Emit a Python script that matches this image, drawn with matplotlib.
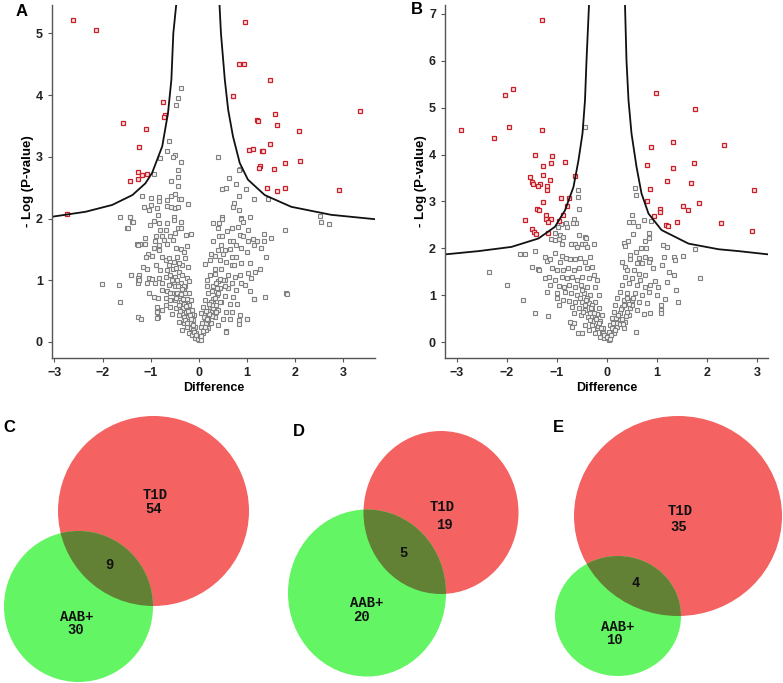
import numpy as np
import matplotlib
matplotlib.use("Agg")
from matplotlib import pyplot as plt
from matplotlib.patches import Ellipse

# ---- data: volcano panel A ----
a_red = [(-2.61, 5.22), (-2.13, 5.05), (0.95, 5.19), (0.83, 4.50), (0.93, 4.51),
         (1.47, 4.24), (0.70, 3.98), (-0.74, 3.89), (-0.71, 3.68), (-0.73, 3.64),
         (-1.58, 3.54), (-1.09, 3.45), (1.58, 3.70), (1.21, 3.59), (1.22, 3.58),
         (1.62, 3.52), (2.09, 3.42), (3.35, 3.74), (-1.24, 3.16), (1.48, 3.21),
         (1.04, 3.11), (1.13, 3.12), (1.31, 3.10), (1.33, 3.09), (1.27, 2.85),
         (1.24, 2.82), (1.56, 2.81), (1.78, 2.90), (2.11, 2.94), (-1.27, 2.75),
         (-1.26, 2.64), (-1.17, 2.71), (-1.08, 2.72), (-1.42, 2.61), (1.41, 2.50),
         (1.62, 2.45), (1.79, 2.49), (2.91, 2.46), (-2.74, 2.08)]

a_grey = [(-0.38, 4.11), (-0.44, 3.95), (-0.47, 3.84), (-0.61, 3.25), (-0.67, 3.10),
          (-0.49, 3.03), (-0.54, 2.99), (-0.80, 2.98), (-0.37, 2.91), (-0.43, 2.79),
          (-0.93, 2.72), (-0.44, 2.68), (-0.57, 2.60), (-0.44, 2.52), (-1.18, 2.36),
          (-1.00, 2.33), (-0.83, 2.35), (-0.66, 2.30), (-0.57, 2.37), (-0.49, 2.40),
          (-0.41, 2.32), (-0.37, 2.32), (-0.82, 2.29), (-1.13, 2.19), (-1.00, 2.22),
          (-0.87, 2.17), (-1.04, 2.14), (-0.67, 2.21), (-0.57, 2.19), (-0.50, 2.17),
          (-0.44, 2.19), (-0.22, 2.23), (-1.63, 2.03), (-1.42, 2.02), (-0.84, 2.06),
          (-0.52, 2.03), (-1.38, 1.95), (-1.49, 1.85), (-0.93, 1.96), (-1.02, 1.90),
          (-0.83, 1.92), (-0.66, 1.92), (-0.52, 1.98), (-0.38, 1.95), (-0.80, 1.82),
          (-0.69, 1.82), (-0.43, 1.84), (-0.36, 1.84), (-0.89, 1.72), (-0.76, 1.72),
          (-0.59, 1.72), (-0.50, 1.76), (-0.26, 1.74), (-0.17, 1.75), (-1.12, 1.68),
          (-0.90, 1.63), (-0.73, 1.65), (-0.54, 1.65), (-1.28, 1.58), (-1.23, 1.59),
          (-0.83, 1.57), (-0.93, 1.52), (-0.82, 1.49), (-0.66, 1.58), (-0.47, 1.53),
          (-0.38, 1.50), (-0.24, 1.55), (-0.31, 1.46), (-1.05, 1.42), (-0.97, 1.40),
          (-1.09, 1.38), (-0.76, 1.37), (-0.69, 1.33), (-0.61, 1.36), (-0.52, 1.30),
          (-0.45, 1.38), (-0.28, 1.36), (-0.35, 1.25), (-0.22, 1.22), (-1.16, 1.22),
          (-1.07, 1.19), (-0.89, 1.25), (-0.80, 1.17), (-0.66, 1.17), (-0.54, 1.19),
          (-0.41, 1.14), (-1.40, 1.09), (-1.24, 1.09), (-1.26, 1.03), (-1.04, 1.04),
          (-0.97, 1.02), (-0.83, 1.03), (-0.69, 1.06), (-0.59, 1.09), (-0.49, 1.06),
          (-0.35, 1.09), (-0.24, 1.03), (-2.01, 0.94), (-1.66, 0.92), (-1.27, 0.95),
          (-1.07, 0.95), (-0.91, 0.95), (-0.76, 0.95), (-0.62, 0.92), (-0.52, 0.95),
          (-0.38, 0.95), (-0.28, 0.90), (-0.21, 0.98), (-0.76, 0.84), (-0.66, 0.82),
          (-1.04, 0.79), (-0.55, 0.79), (-0.45, 0.79), (-0.31, 0.82), (-0.21, 0.79),
          (-0.93, 0.73), (-0.84, 0.71), (-0.69, 0.71), (-0.59, 0.68), (-0.49, 0.68),
          (-0.38, 0.65), (-0.28, 0.65), (-0.17, 0.68), (-1.64, 0.64), (-0.87, 0.57),
          (-0.69, 0.60), (-0.59, 0.57), (-0.47, 0.55), (-0.35, 0.52), (-0.24, 0.55),
          (-0.14, 0.52), (-0.87, 0.48), (-0.76, 0.52), (-0.55, 0.46), (-0.41, 0.44),
          (-0.31, 0.41), (-0.21, 0.38), (-0.10, 0.44), (-1.27, 0.40), (-1.21, 0.37),
          (-0.84, 0.40), (-0.41, 0.33), (-0.31, 0.30), (-0.24, 0.25), (-0.17, 0.22),
          (-0.10, 0.19), (-0.35, 0.19), (-0.21, 0.14), (-0.14, 0.11), (-0.04, 0.09),
          (0.00, 0.03), (-0.07, 0.06), (-1.43, 2.02), (-1.48, 1.85), (-1.37, 1.94),
          (-1.12, 1.59), (-1.26, 1.57), (-1.41, 1.09), (-1.25, 1.01), (-0.86, 0.48),
          (-0.86, 0.39), (-0.30, 0.90), (-0.25, 0.70), (-0.20, 0.60), (-0.15, 0.45),
          (-0.12, 0.35), (-0.08, 0.25), (-0.05, 0.15), (-0.02, 0.05), (-0.45, 1.00),
          (-0.35, 0.85), (-0.28, 0.80), (-0.42, 0.60), (-0.33, 0.55), (-0.26, 0.48),
          (-0.18, 0.30), (-0.50, 0.90), (-0.40, 0.75), (-0.30, 0.62), (-0.22, 0.40),
          (-0.12, 0.20), (-0.33, 0.70), (-0.27, 0.58), (-0.23, 0.50), (-0.19, 0.43),
          (-0.16, 0.37), (-0.13, 0.28), (-0.09, 0.16), (-0.06, 0.12), (-0.43, 0.90),
          (-0.37, 0.78), (-0.47, 0.72), (-0.39, 0.50), (-0.29, 0.36), (-0.25, 0.30),
          (-0.55, 1.00), (-0.60, 0.80), (-0.62, 1.25), (-0.48, 1.20), (-0.42, 1.28),
          (0.40, 2.99), (0.85, 2.80), (0.62, 2.65), (0.48, 2.48), (0.56, 2.49),
          (0.78, 2.56), (0.97, 2.48), (0.83, 2.37), (1.14, 2.32), (1.44, 2.32),
          (0.73, 2.25), (0.72, 2.18), (0.84, 2.14), (0.48, 2.02), (0.88, 2.01),
          (1.06, 2.03), (2.51, 2.04), (2.53, 1.94), (2.70, 1.91), (1.80, 1.82),
          (0.88, 1.99), (0.48, 1.99), (0.30, 1.92), (0.41, 1.92), (0.92, 1.95),
          (0.40, 1.85), (0.69, 1.85), (0.82, 1.87), (0.59, 1.80), (1.02, 1.82),
          (0.41, 1.72), (0.48, 1.72), (0.85, 1.74), (0.92, 1.72), (1.35, 1.75),
          (1.49, 1.69), (0.30, 1.64), (0.64, 1.64), (0.71, 1.64), (1.02, 1.64),
          (1.13, 1.67), (1.20, 1.64), (1.35, 1.64), (0.47, 1.57), (0.78, 1.57),
          (1.15, 1.57), (1.29, 1.53), (0.40, 1.49), (0.55, 1.49), (0.64, 1.50),
          (0.88, 1.52), (1.01, 1.45), (0.26, 1.42), (0.34, 1.40), (0.50, 1.42),
          (0.68, 1.37), (0.78, 1.38), (1.40, 1.38), (0.23, 1.33), (0.44, 1.33),
          (0.57, 1.30), (0.88, 1.28), (1.06, 1.28), (0.12, 1.26), (0.33, 1.19),
          (0.47, 1.19), (0.68, 1.25), (0.73, 1.25), (1.27, 1.19), (1.16, 1.14),
          (1.02, 1.11), (0.23, 1.09), (0.33, 1.10), (0.61, 1.09), (0.75, 1.06),
          (0.85, 1.09), (1.09, 1.03), (0.16, 1.01), (0.40, 0.99), (0.54, 1.01),
          (0.68, 0.95), (0.88, 0.95), (0.95, 0.92), (0.16, 0.90), (0.30, 0.90),
          (0.44, 0.87), (0.61, 0.87), (0.78, 0.84), (1.06, 0.83), (1.37, 0.73),
          (1.14, 0.70), (1.82, 0.79), (0.19, 0.79), (0.37, 0.76), (0.54, 0.75),
          (0.71, 0.73), (0.12, 0.68), (0.30, 0.65), (0.47, 0.64), (0.64, 0.61),
          (0.80, 0.61), (0.09, 0.57), (0.23, 0.55), (0.40, 0.52), (0.57, 0.49),
          (0.68, 0.48), (0.86, 0.44), (1.01, 0.38), (0.83, 0.36), (0.83, 0.29),
          (0.05, 0.47), (0.19, 0.44), (0.33, 0.41), (0.50, 0.38), (0.64, 0.37),
          (0.12, 0.33), (0.26, 0.30), (0.40, 0.28), (0.05, 0.25), (0.19, 0.22),
          (0.56, 0.17), (0.09, 0.14), (0.02, 0.09), (0.05, 0.03), (1.84, 0.78),
          (1.15, 0.70), (1.00, 0.38), (0.56, 0.16), (0.84, 2.79), (0.05, 0.10),
          (0.10, 0.20), (0.15, 0.30), (0.20, 0.35), (0.25, 0.50), (0.30, 0.55),
          (0.35, 0.60), (0.10, 0.40), (0.20, 0.50), (0.30, 0.70), (0.40, 0.80),
          (0.45, 0.65), (0.25, 0.65), (0.35, 0.95), (0.50, 1.00), (0.55, 0.90),
          (0.15, 0.20), (0.28, 0.42), (0.08, 0.18), (0.13, 0.25), (0.17, 0.38),
          (0.22, 0.45), (0.27, 0.60), (0.34, 0.72), (0.38, 0.88), (0.43, 1.02),
          (0.07, 0.30), (0.14, 0.50), (0.21, 0.62), (0.28, 0.82), (0.36, 0.48)]

# threshold curve (left and right branch)
a_curve_left = [(-3.04, 2.03), (-2.35, 2.11), (-1.80, 2.22), (-1.38, 2.38), (-1.11, 2.57),
                (-0.97, 2.74), (-0.76, 3.17), (-0.64, 3.71), (-0.57, 4.25), (-0.53, 5.00),
                (-0.47, 5.46)]
a_curve_right = [(0.43, 5.46), (0.46, 5.00), (0.54, 4.25), (0.61, 3.76), (0.71, 3.33),
                 (0.85, 2.90), (1.02, 2.63), (1.37, 2.38), (1.92, 2.19), (2.75, 2.06),
                 (3.65, 1.99)]

# ---- data: volcano panel B ----
b_red = [(-1.31, 6.86), (-1.89, 5.39), (-2.05, 5.27), (-1.96, 4.58), (-2.93, 4.52),
         (-2.26, 4.36), (-1.30, 4.53), (0.98, 5.31), (1.75, 4.98), (0.87, 4.16),
         (1.32, 4.26), (2.33, 4.21), (-1.44, 3.99), (-1.10, 3.96), (-1.12, 3.82),
         (-0.84, 3.85), (-1.29, 3.75), (0.79, 3.77), (1.73, 3.83), (1.31, 3.71),
         (-0.65, 3.55), (-1.29, 3.56), (-1.55, 3.52), (-1.51, 3.41), (-1.48, 3.38),
         (-1.35, 3.38), (-1.39, 3.33), (-1.20, 3.33), (-1.15, 3.45), (-1.21, 3.24),
         (1.19, 3.43), (1.67, 3.39), (0.86, 3.26), (2.94, 3.25), (-0.92, 3.08),
         (-0.77, 3.08), (-1.29, 2.99), (-0.80, 2.90), (0.79, 3.00), (1.83, 2.96),
         (1.52, 2.91), (1.61, 2.82), (1.05, 2.83), (1.05, 2.78), (-1.41, 2.84),
         (-1.36, 2.82), (-1.22, 2.72), (-0.88, 2.70), (0.94, 2.69), (-1.65, 2.61),
         (-1.23, 2.62), (-1.13, 2.62), (-1.19, 2.56), (-0.97, 2.59), (1.17, 2.50),
         (1.21, 2.47), (1.39, 2.56), (2.28, 2.55), (2.90, 2.37), (-1.50, 2.41),
         (-1.47, 2.35), (-1.43, 2.30), (-1.18, 2.33)]

b_grey = [(-0.44, 4.58), (-0.59, 3.24), (-0.58, 3.10), (-0.57, 2.84), (-0.67, 2.62),
          (-0.62, 2.55), (-0.69, 2.54), (-0.83, 2.53), (-0.92, 2.51), (-0.99, 2.46),
          (-0.81, 2.46), (-1.04, 2.33), (-0.57, 2.28), (-0.45, 2.25), (-0.43, 2.23),
          (-0.94, 2.28), (-0.89, 2.25), (-0.96, 2.19), (-1.12, 2.19), (-1.05, 2.17),
          (-0.72, 2.09), (-0.65, 2.10), (-0.51, 2.09), (-0.44, 2.09), (-0.27, 2.10),
          (-0.91, 2.10), (-0.61, 2.03), (-0.41, 2.02), (-1.74, 1.88), (-1.65, 1.88),
          (-1.45, 1.95), (-2.37, 1.49), (-2.01, 1.22), (-1.69, 0.90), (-1.44, 0.63),
          (-1.19, 0.56), (-1.51, 1.61), (-1.39, 1.55), (-1.24, 1.82), (-1.04, 1.91),
          (-1.21, 1.73), (-1.14, 1.78), (-0.91, 1.84), (-0.94, 1.71), (-0.83, 1.80),
          (-0.74, 1.78), (-0.64, 1.78), (-0.55, 1.80), (-0.44, 1.71), (-0.34, 1.82),
          (-1.11, 1.57), (-1.01, 1.54), (-0.89, 1.54), (-0.79, 1.57), (-0.67, 1.54),
          (-0.57, 1.57), (-0.41, 1.57), (-0.31, 1.61), (-1.25, 1.36), (-1.16, 1.39),
          (-1.05, 1.32), (-0.91, 1.39), (-0.81, 1.36), (-0.71, 1.39), (-0.61, 1.32),
          (-0.51, 1.39), (-0.37, 1.36), (-0.27, 1.43), (-0.21, 1.32), (-1.14, 1.22),
          (-0.97, 1.20), (-0.87, 1.18), (-0.76, 1.22), (-0.64, 1.18), (-0.52, 1.22),
          (-0.41, 1.18), (-0.24, 1.18), (-1.21, 1.07), (-1.01, 1.04), (-0.85, 1.07),
          (-0.72, 1.04), (-0.61, 1.00), (-0.47, 1.04), (-0.34, 1.00), (-0.17, 1.00),
          (-1.01, 0.93), (-0.89, 0.90), (-0.77, 0.87), (-0.64, 0.86), (-0.51, 0.85),
          (-0.37, 0.83), (-0.24, 0.86), (-0.97, 0.80), (-0.71, 0.75), (-0.57, 0.72),
          (-0.44, 0.68), (-0.31, 0.68), (-0.17, 0.72), (-0.67, 0.61), (-0.52, 0.58),
          (-0.39, 0.54), (-0.24, 0.54), (-0.11, 0.58), (-0.74, 0.42), (-0.67, 0.40),
          (-0.71, 0.33), (-0.59, 0.19), (-0.51, 0.19), (-0.44, 0.36), (-0.31, 0.36),
          (-0.21, 0.29), (-0.11, 0.22), (-0.04, 0.11), (0.03, 0.04), (-0.37, 0.26),
          (-0.24, 0.19), (-0.14, 0.11), (-0.07, 0.08), (-1.37, 1.54), (-0.50, 1.10),
          (-0.40, 0.95), (-0.30, 0.80), (-0.20, 0.60), (-0.15, 0.45), (-0.08, 0.30),
          (-0.55, 0.95), (-0.45, 0.80), (-0.35, 0.62), (-0.28, 0.45), (-0.18, 0.35),
          (-0.33, 0.72), (-0.26, 0.62), (-0.22, 0.50), (-0.16, 0.40), (-0.12, 0.30),
          (-0.09, 0.20), (-0.06, 0.15), (-0.42, 0.90), (-0.48, 0.65), (-0.34, 0.48),
          (0.56, 3.29), (0.57, 3.13), (0.49, 2.71), (0.44, 2.57), (0.51, 2.57),
          (0.74, 2.60), (0.88, 2.59), (0.61, 2.48), (0.51, 2.30), (0.83, 2.33),
          (0.84, 2.23), (0.75, 2.15), (0.41, 2.15), (0.33, 2.12), (0.35, 2.05),
          (1.11, 2.07), (1.19, 2.03), (0.68, 2.00), (0.77, 2.00), (1.76, 1.98),
          (0.57, 1.93), (0.46, 1.85), (0.46, 1.78), (0.63, 1.80), (0.75, 1.82),
          (0.86, 1.78), (1.13, 1.82), (1.33, 1.82), (1.51, 1.84), (1.35, 1.75),
          (1.86, 1.36), (0.29, 1.70), (0.36, 1.61), (0.59, 1.68), (0.69, 1.68),
          (0.83, 1.71), (0.91, 1.57), (1.09, 1.64), (1.24, 1.50), (1.33, 1.43),
          (1.19, 1.29), (1.37, 1.11), (1.41, 0.86), (1.08, 0.79), (1.08, 0.68),
          (1.08, 0.62), (1.15, 0.91), (0.86, 0.61), (0.57, 0.21), (0.39, 1.54),
          (0.53, 1.54), (0.63, 1.46), (0.76, 1.43), (0.36, 1.39), (0.49, 1.36),
          (0.66, 1.32), (0.95, 1.30), (1.01, 1.18), (0.29, 1.22), (0.43, 1.25),
          (0.59, 1.22), (0.76, 1.18), (0.86, 1.22), (0.26, 1.07), (0.39, 1.04),
          (0.56, 1.04), (0.69, 1.00), (0.83, 1.07), (0.99, 1.00), (0.19, 0.93),
          (0.33, 0.90), (0.49, 0.90), (0.63, 0.86), (0.79, 0.83), (0.16, 0.79),
          (0.29, 0.75), (0.46, 0.72), (0.59, 0.68), (0.73, 0.59), (0.13, 0.65),
          (0.26, 0.61), (0.43, 0.58), (0.09, 0.51), (0.23, 0.47), (0.36, 0.43),
          (0.06, 0.36), (0.19, 0.33), (0.33, 0.29), (0.03, 0.22), (0.13, 0.19),
          (-0.01, 0.11), (0.06, 0.06), (0.10, 0.30), (0.20, 0.40), (0.30, 0.50),
          (0.40, 0.65), (0.15, 0.25), (0.25, 0.38), (0.50, 0.80), (0.40, 0.95),
          (0.08, 0.15), (0.12, 0.40), (0.17, 0.52), (0.22, 0.58), (0.27, 0.70),
          (0.34, 0.80), (0.38, 0.55), (0.44, 0.82), (0.52, 0.95), (0.31, 0.38)]

b_curve_left = [(-3.24, 1.87), (-2.57, 1.94), (-1.91, 2.03), (-1.37, 2.21), (-1.04, 2.46),
                (-0.84, 2.81), (-0.67, 3.31), (-0.57, 3.88), (-0.49, 4.45), (-0.44, 5.16),
                (-0.41, 6.00), (-0.36, 7.19)]
b_curve_right = [(0.36, 7.19), (0.39, 6.00), (0.43, 5.16), (0.49, 4.45), (0.59, 3.74),
                 (0.69, 3.17), (0.83, 2.74), (1.09, 2.39), (1.63, 2.10), (2.23, 1.98),
                 (2.63, 1.94), (3.23, 1.87)]

# ---- data: Venn counts ----
venn_letters = ["C", "D", "E"]
t1d_only = [54, 19, 35]
both = [9, 5, 4]
aab_only = [30, 20, 10]

GREY = "#808080"
RED = "#c8202a"


def volcano(ax, red, grey, cl, cr, xlim, ylim, yticks):
    grey = np.array(grey)
    red = np.array(red)
    ax.plot(grey[:, 0], grey[:, 1], ls="none", marker="s", ms=3.2,
            mfc="#f4f4f4", mec=GREY, mew=0.8)
    ax.plot(red[:, 0], red[:, 1], ls="none", marker="s", ms=3.2,
            mfc="#f8e0e0", mec=RED, mew=0.9)
    for c in (cl, cr):
        c = np.array(c)
        ax.plot(c[:, 0], c[:, 1], color="#111111", lw=1.3)
    ax.set_xlim(*xlim)
    ax.set_ylim(*ylim)
    ax.set_xticks(range(-3, 4))
    ax.set_yticks(yticks)
    for s in ("top", "right"):
        ax.spines[s].set_visible(False)
    for s in ("left", "bottom"):
        ax.spines[s].set_color("#555555")
        ax.spines[s].set_linewidth(1.0)
    ax.tick_params(length=3, width=0.8, colors="#555555", labelcolor="#222222",
                   labelsize=9)
    for lab in ax.get_xticklabels() + ax.get_yticklabels():
        lab.set_fontweight("bold")
    ax.set_xlabel("Difference", fontsize=9, fontweight="bold", labelpad=2)
    ax.set_ylabel("- Log (P-value)", fontsize=9.5, fontweight="bold", labelpad=1)


plt.rcParams['font.family'] = ['Liberation Sans', 'DejaVu Sans']
fig = plt.figure(figsize=(7.83, 6.83), dpi=100)

axA = fig.add_axes([52 / 783, 1 - 358 / 683, 323 / 783, 353 / 683])
volcano(axA, a_red, a_grey, a_curve_left, a_curve_right,
        (-3.05, 3.66), (-0.26, 5.46), range(0, 6))
axB = fig.add_axes([445 / 783, 1 - 358 / 683, 323 / 783, 353 / 683])
volcano(axB, b_red, b_grey, b_curve_left, b_curve_right,
        (-3.24, 3.22), (-0.34, 7.19), range(0, 8))

# Venn panels drawn in a pixel-coordinate overlay
ov = fig.add_axes([0, 0, 1, 1], zorder=-1)
ov.set_xlim(0, 783)
ov.set_ylim(683, 0)
ov.axis("off")

red_ell = [((153.5, 511), 191, 190), ((441, 512.5), 155, 163), ((678, 516), 208, 200)]
green_ell = [((78.5, 606.5), 149, 151), ((367, 593), 158, 167), ((618, 616), 126, 120)]
t1d_pos = [(155, 495), (442, 507), (680, 511)]
t1d_num_pos = [(154, 509), (444, 525), (679, 527)]
both_pos = [(109, 565), (403, 553), (636, 583)]
aab_pos = [(77, 617), (367, 603), (618, 627)]
aab_num_pos = [(76, 630), (361, 617), (614, 640)]
letter_pos = [(9, 428), (299, 431), (558, 428)]

mono = dict(family="Liberation Mono", fontweight="bold", fontsize=10,
            ha="center", va="center", color="#111111")
for i in range(3):
    r = Ellipse(*red_ell[i], facecolor="#f46262", edgecolor="none")
    g = Ellipse(*green_ell[i], facecolor="#63f563", edgecolor="none")
    o = Ellipse(*green_ell[i], facecolor="#628135", edgecolor="none")
    ov.add_patch(r)
    ov.add_patch(g)
    ov.add_patch(o)
    o.set_clip_path(r)
    ov.text(*t1d_pos[i], "T1D", **mono)
    ov.text(*t1d_num_pos[i], str(t1d_only[i]), **mono)
    ov.text(*both_pos[i], str(both[i]), **mono)
    ov.text(*aab_pos[i], "AAB+", **mono)
    ov.text(*aab_num_pos[i], str(aab_only[i]), **mono)
    ov.text(*letter_pos[i], venn_letters[i], fontsize=12, fontweight="bold",
            ha="center", va="center")

ov.text(22, 11, "A", fontsize=12, fontweight="bold", ha="center", va="center")
ov.text(417, 9, "B", fontsize=12, fontweight="bold", ha="center", va="center")

fig.savefig("out.png", dpi=100)
